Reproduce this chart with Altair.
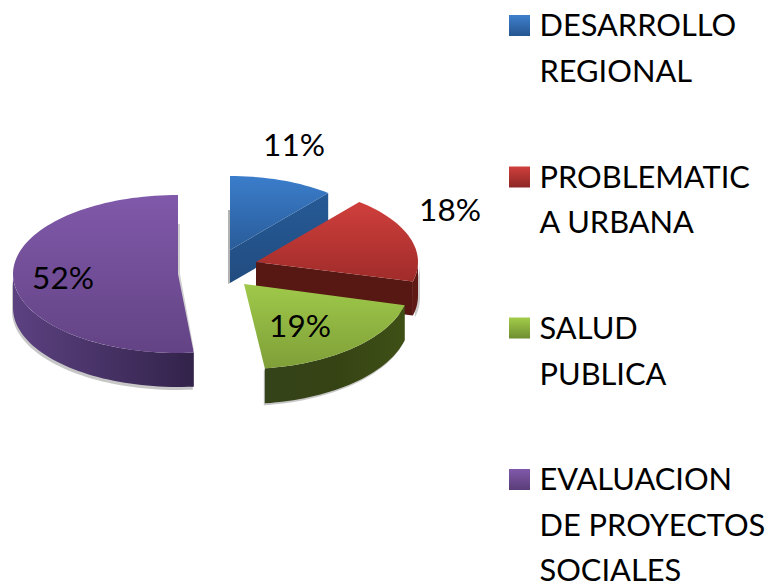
import math
import altair as alt
import pandas as pd

# ---- data ----
categories = ["DESARROLLO REGIONAL", "PROBLEMATICA URBANA", "SALUD PUBLICA", "EVALUACION DE PROYECTOS SOCIALES"]
shares = [11, 18, 19, 52]
percent_labels = ["11%", "18%", "19%", "52%"]
legend_lines = [["DESARROLLO", "REGIONAL"], ["PROBLEMATIC", "A URBANA"], ["SALUD", "PUBLICA"],
                ["EVALUACION", "DE PROYECTOS", "SOCIALES"]]

# ---- layout (canvas pixels) ----
W, H = 757, 575
centres = [(230, 250), (256, 262), (244, 284), (178, 274)]
radii = [(154, 74), (162, 78), (166, 85), (165, 79)]
depths = [33, 34, 35, 34]
pct_x = [294, 450, 300, 63]
pct_y = [156, 221, 337, 289]
legend_sq_y = [25.5, 177, 328, 479.5]
legend_baselines = [[36, 82], [188, 233], [339, 385], [490, 536, 581]]
PURPLE_START_NUDGE = 1.7  # perspective correction of the front edge
FONT = "Lato"
FS = 30.8


def grad(c0, c1, horizontal=False, mid=None):
    stops = [alt.GradientStop(color=c0, offset=0)]
    if mid:
        stops.append(alt.GradientStop(color=mid, offset=0.5))
    stops.append(alt.GradientStop(color=c1, offset=1))
    return alt.Gradient(gradient="linear", stops=stops, x1=0, x2=1 if horizontal else 0,
                        y1=0, y2=0 if horizontal else 1)


top_fill = [grad("#3b7dcb", "#295c99"), grad("#cf3f3c", "#a02c2a"),
            grad("#9fc94a", "#7f9f38"), grad("#8059aa", "#634384")]
square_fill = [grad("#3e7fcd", "#265690"), grad("#d03f3c", "#8c2725"),
               grad("#a3cd4b", "#6f8d30"), grad("#8059aa", "#5a3d78")]

X = alt.X("x:Q", scale=alt.Scale(domain=[8, 8 + W], nice=False, zero=False), axis=None)
Y = alt.Y("y:Q", scale=alt.Scale(domain=[8 + H, 8], nice=False, zero=False), axis=None)


def polygon(points, fill, opacity=1.0):
    df = pd.DataFrame({"x": [p[0] for p in points], "y": [p[1] for p in points],
                       "i": list(range(len(points)))})
    return alt.Chart(df).mark_line(fill=fill, strokeWidth=0, opacity=opacity, interpolate="linear").encode(
        x=X, y=Y, order=alt.Order("i:Q"))


def arc(k, a0, a1):
    cx, cy = centres[k]
    rx, ry = radii[k]
    n = max(2, int(abs(a1 - a0) / 2))
    out = []
    for j in range(n + 1):
        t = math.radians(a0 + (a1 - a0) * j / n)
        out.append((cx + rx * math.sin(t), cy - ry * math.cos(t)))
    return out


# angular extents from the shares, clockwise from twelve o'clock
starts, acc = [], 0
for s in shares:
    starts.append(acc * 3.6)
    acc += s
ends = [a + s * 3.6 for a, s in zip(starts, shares)]

layers = []

# purple: shadow, wall, top
k = 3
c = centres[k]
front = arc(k, starts[k] + PURPLE_START_NUDGE, 270)
wall = front + [(p[0], p[1] + depths[k]) for p in reversed(front)]
layers.append(polygon([(p[0] - 1, p[1] + 3) for p in wall], "#000000", 0.22))
layers.append(polygon([(c[0] + 2, c[1] - 50), (c[0] + 2, c[1]), (c[0] + 16, c[1] + 76), (c[0], c[1] + 76), (c[0], c[1] - 50)],
                      "#000000", 0.18))
layers.append(polygon(wall, grad("#32234a", "#5c4181", horizontal=False) if False else grad("#5c4181", "#32234a", horizontal=True)))
layers.append(polygon([c] + arc(k, starts[k] + PURPLE_START_NUDGE, ends[k]), top_fill[k]))

# blue: shadow, inner wall, top
k = 0
c = centres[k]
outer = arc(k, starts[k], ends[k])
layers.append(polygon([(c[0] - 2, c[1] - 40), (c[0] - 2, c[1] + depths[k] + 1), (c[0], c[1] + depths[k]), (c[0], c[1] - 40)],
                      "#000000", 0.3))
end_pt = outer[-1]
layers.append(polygon([end_pt, (end_pt[0], end_pt[1] + depths[k]), (c[0], c[1] + depths[k]), c],
                      grad("#265a96", "#214c80")))
layers.append(polygon([c] + outer, top_fill[k]))

# red: outer wall, inner wall, top
k = 1
c = centres[k]
outer = arc(k, starts[k], ends[k])
edge = arc(k, 90, ends[k])
layers.append(polygon([(p[0] + 2, p[1] + 2) for p in edge] + [(p[0] + 2, p[1] + depths[k] + 2) for p in reversed(edge)],
                      "#000000", 0.2))
layers.append(polygon(edge + [(p[0], p[1] + depths[k]) for p in reversed(edge)], "#5f1a16"))
end_pt = outer[-1]
layers.append(polygon([c, end_pt, (end_pt[0], end_pt[1] + depths[k]), (c[0], c[1] + depths[k])], "#571713"))
layers.append(polygon([c] + outer, top_fill[k]))

# green: outer wall, top
k = 2
c = centres[k]
outer = arc(k, starts[k], ends[k])
wall = outer + [(p[0], p[1] + depths[k]) for p in reversed(outer)]
layers.append(polygon([(p[0] - 1, p[1] + 2) for p in wall], "#000000", 0.22))
layers.append(polygon(wall, grad("#35431a", "#3f5016", horizontal=True, mid="#354314")))
layers.append(polygon([c] + outer, top_fill[k]))

# percentage labels
pct_df = pd.DataFrame({"x": pct_x, "y": pct_y, "t": percent_labels})
layers.append(alt.Chart(pct_df).mark_text(font=FONT, fontSize=FS + 0.7, color="#000000", align="center",
                                          baseline="alphabetic").encode(x=X, y=Y, text="t:N"))

# legend
for i, name in enumerate(categories):
    sq = pd.DataFrame({"x": [519.5], "y": [legend_sq_y[i]], "name": [name]})
    layers.append(alt.Chart(sq).mark_point(shape="square", size=441, filled=True, fill=square_fill[i],
                                           opacity=1, strokeWidth=0).encode(x=X, y=Y))
txt = pd.DataFrame([
    {"x": 539.5, "y": b, "t": line}
    for lines, bases in zip(legend_lines, legend_baselines)
    for line, b in zip(lines, bases)
])
layers.append(alt.Chart(txt).mark_text(font=FONT, fontSize=FS, color="#000000", align="left",
                                       baseline="alphabetic").encode(x=X, y=Y, text="t:N"))

chart = alt.layer(*layers).properties(
    width=W, height=H, padding=0, background="#ffffff",
    autosize=alt.AutoSizeParams(type="none"),
).configure_view(stroke=None)
chart.save("out.html", embed_options={"renderer": "svg", "actions": False})
